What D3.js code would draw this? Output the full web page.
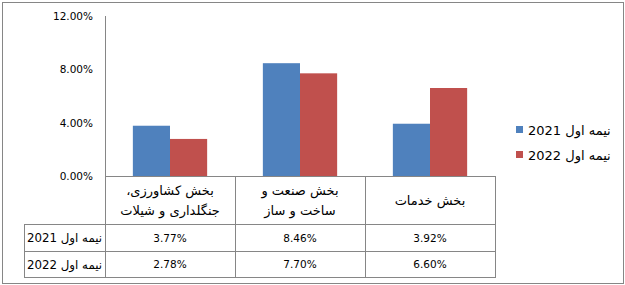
<!DOCTYPE html>
<html>
<head>
<meta charset="utf-8">
<script src="https://cdn.jsdelivr.net/npm/d3@7"></script>
<style>
  body { margin: 0; background: #fff; }
  svg { display: block; font-family: "DejaVu Sans", sans-serif; }
  text { fill: #000; }
</style>
</head>
<body>
<svg id="chart" width="625" height="285"></svg>
<script>
// data
const categories = ['agri', 'industry', 'services'];
const categoryLines = [
    ['بخش کشاورزی،', 'جنگلداری و شیلات'],
    ['بخش صنعت و', 'ساخت و ساز'],
    ['بخش خدمات']
];
const seriesNames = ['نیمه اول 2021', 'نیمه اول 2022'];
const values2021 = [3.77, 8.46, 3.92];
const values2022 = [2.78, 7.70, 6.60];
const yTicks = [0, 4, 8, 12];
const colors = ['#4f81bd', '#c0504d'];

const series = [values2021, values2022];
const lineColor = '#868686';

let svg = d3.select('#chart');

// outer frame
svg.append('rect')
    .attr('x', 2.5).attr('y', 2.5)
    .attr('width', 621).attr('height', 281)
    .attr('fill', 'none')
    .attr('stroke', lineColor);

let x = d3.scaleBand()
    .domain(categories)
    .range([105, 495]);

let xs = d3.scaleBand()
    .domain(d3.range(series.length))
    .range([0, x.bandwidth()])
    .paddingOuter(0.75);

let y = d3.scaleLinear()
    .domain([0, 12])
    .range([176, 16]);

// bars
series.forEach(function (vals, si) {
    svg.append('g')
        .selectAll('rect')
        .data(vals)
        .enter().append('rect')
        .attr('x', function (d, i) { return x(categories[i]) + xs(si); })
        .attr('y', function (d) { return y(d); })
        .attr('width', xs.bandwidth())
        .attr('height', function (d) { return y(0) - y(d); })
        .attr('fill', colors[si]);
});

// y axis labels
let yAxis = d3.axisLeft(y)
    .tickValues(yTicks)
    .tickSize(0)
    .tickPadding(12)
    .tickFormat(function (d) { return d.toFixed(2) + '%'; });

let ga = svg.append('g')
    .attr('transform', 'translate(105,0)')
    .call(yAxis);
ga.select('.domain').remove();
ga.selectAll('text')
    .attr('font-size', '10.5px')
    .attr('font-family', '"DejaVu Sans", sans-serif')
    .attr('fill', '#000');

// data table
const tableLeft = 24;
const rowY = [176.5, 224.5, 251.5, 277.5];
const tableRight = x.range()[1];

let gt = svg.append('g')
    .attr('stroke', lineColor)
    .attr('stroke-width', 1)
    .attr('shape-rendering', 'crispEdges');

// axis line (runs down through the table)
gt.append('line')
    .attr('x1', 105.5).attr('x2', 105.5)
    .attr('y1', y(12)).attr('y2', rowY[3]);
// top line of the table (x axis)
gt.append('line')
    .attr('x1', 105).attr('x2', tableRight + 0.5)
    .attr('y1', rowY[0]).attr('y2', rowY[0]);
// row lines
[rowY[1], rowY[2], rowY[3]].forEach(function (ry) {
    gt.append('line')
        .attr('x1', tableLeft).attr('x2', tableRight + 0.5)
        .attr('y1', ry).attr('y2', ry);
});
// left edge of series label column
gt.append('line')
    .attr('x1', tableLeft + 0.5).attr('x2', tableLeft + 0.5)
    .attr('y1', rowY[1]).attr('y2', rowY[3]);
// column separators
categories.forEach(function (c) {
    let cx = x(c) + x.bandwidth() + 0.5;
    gt.append('line')
        .attr('x1', cx).attr('x2', cx)
        .attr('y1', rowY[0]).attr('y2', rowY[3]);
});

// category labels
categories.forEach(function (c, i) {
    let lines = categoryLines[i];
    let cy = (rowY[0] + rowY[1]) / 2;
    let lh = 20;
    lines.forEach(function (ln, li) {
        svg.append('text')
            .attr('x', x(c) + x.bandwidth() / 2)
            .attr('y', cy + (li - (lines.length - 1) / 2) * lh)
            .attr('dy', '0.35em')
            .attr('direction', 'rtl')
            .attr('text-anchor', 'middle')
            .attr('font-size', '13px')
            .text(ln);
    });
});

// value rows
series.forEach(function (vals, si) {
    let cy = (rowY[si + 1] + rowY[si + 2]) / 2;
    svg.append('text')
        .attr('x', tableLeft + 3)
        .attr('y', cy)
        .attr('dy', '0.35em')
        .attr('text-anchor', 'start')
        .attr('font-size', '11.8px')
        .text(seriesNames[si]);
    vals.forEach(function (v, i) {
        svg.append('text')
            .attr('x', x(categories[i]) + x.bandwidth() / 2)
            .attr('y', cy)
            .attr('dy', '0.35em')
            .attr('text-anchor', 'middle')
            .attr('font-size', '10.5px')
            .text(v.toFixed(2) + '%');
    });
});

// legend
let legend = svg.append('g');
seriesNames.forEach(function (name, si) {
    let ly = 130 + si * 25;
    legend.append('rect')
        .attr('x', 516).attr('y', ly - 4)
        .attr('width', 7).attr('height', 7)
        .attr('fill', colors[si]);
    legend.append('text')
        .attr('x', 528)
        .attr('y', ly)
        .attr('dy', '0.35em')
        .attr('font-size', '13px')
        .text(name);
});
</script>
</body>
</html>
